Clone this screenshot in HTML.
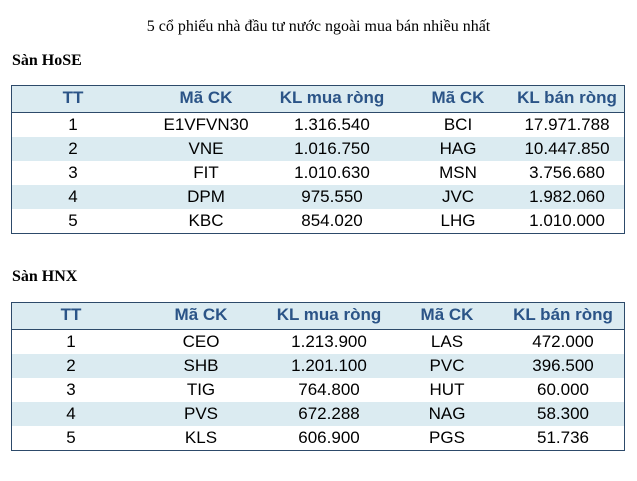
<!DOCTYPE html>
<html><head><meta charset="utf-8"><style>
body{margin:0;width:637px;height:481px;background:#fff;position:relative;overflow:hidden}
.t{position:absolute;font-family:"Liberation Serif",serif;color:#000}
.tb{position:absolute;left:11px;width:614px;border:1.5px solid #2d4a6a;box-sizing:border-box}
.r{position:relative;height:24px;font-family:"Liberation Sans",sans-serif;font-size:17px}
.r span{position:absolute;top:2px;transform:translateX(-50%);white-space:nowrap}
.h{height:26px;background:#dbebf1;border-bottom:1.5px solid #2d4a6a;color:#2b5487;font-weight:bold;font-size:17px}
.s{background:#dbebf1}
</style></head><body>
<div class="t" style="left:0;width:637px;text-align:center;top:18px;font-size:16px">5 cổ phiếu nhà đầu tư nước ngoài mua bán nhiều nhất</div>
<div class="t" style="left:12px;top:52px;font-size:16px;font-weight:bold">Sàn HoSE</div>
<div class="tb" style="top:85px">
<div class="r h"><span style="left:61px">TT</span><span style="left:194px">Mã CK</span><span style="left:320px">KL mua ròng</span><span style="left:446px">Mã CK</span><span style="left:555px">KL bán ròng</span></div>
<div class="r"><span style="left:61px">1</span><span style="left:194px">E1VFVN30</span><span style="left:320px">1.316.540</span><span style="left:446px">BCI</span><span style="left:555px">17.971.788</span></div>
<div class="r s"><span style="left:61px">2</span><span style="left:194px">VNE</span><span style="left:320px">1.016.750</span><span style="left:446px">HAG</span><span style="left:555px">10.447.850</span></div>
<div class="r"><span style="left:61px">3</span><span style="left:194px">FIT</span><span style="left:320px">1.010.630</span><span style="left:446px">MSN</span><span style="left:555px">3.756.680</span></div>
<div class="r s"><span style="left:61px">4</span><span style="left:194px">DPM</span><span style="left:320px">975.550</span><span style="left:446px">JVC</span><span style="left:555px">1.982.060</span></div>
<div class="r"><span style="left:61px">5</span><span style="left:194px">KBC</span><span style="left:320px">854.020</span><span style="left:446px">LHG</span><span style="left:555px">1.010.000</span></div>
</div>
<div class="t" style="left:12px;top:268px;font-size:16px;font-weight:bold">Sàn HNX</div>
<div class="tb" style="top:302px">
<div class="r h"><span style="left:59px">TT</span><span style="left:189px">Mã CK</span><span style="left:317px">KL mua ròng</span><span style="left:435px">Mã CK</span><span style="left:551px">KL bán ròng</span></div>
<div class="r"><span style="left:59px">1</span><span style="left:189px">CEO</span><span style="left:317px">1.213.900</span><span style="left:435px">LAS</span><span style="left:551px">472.000</span></div>
<div class="r s"><span style="left:59px">2</span><span style="left:189px">SHB</span><span style="left:317px">1.201.100</span><span style="left:435px">PVC</span><span style="left:551px">396.500</span></div>
<div class="r"><span style="left:59px">3</span><span style="left:189px">TIG</span><span style="left:317px">764.800</span><span style="left:435px">HUT</span><span style="left:551px">60.000</span></div>
<div class="r s"><span style="left:59px">4</span><span style="left:189px">PVS</span><span style="left:317px">672.288</span><span style="left:435px">NAG</span><span style="left:551px">58.300</span></div>
<div class="r"><span style="left:59px">5</span><span style="left:189px">KLS</span><span style="left:317px">606.900</span><span style="left:435px">PGS</span><span style="left:551px">51.736</span></div>
</div>
</body></html>
